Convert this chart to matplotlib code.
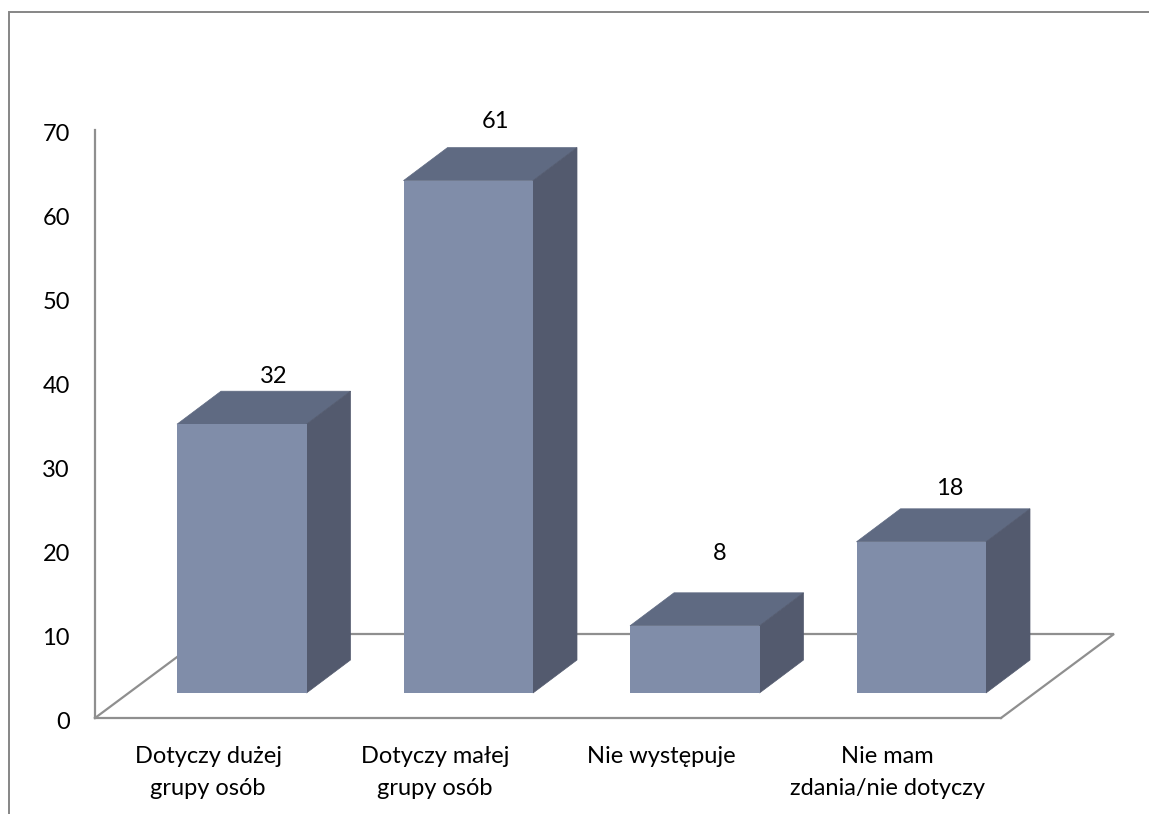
import matplotlib
matplotlib.use('Agg')
import matplotlib.pyplot as plt
from matplotlib.lines import Line2D
from matplotlib.patches import Polygon
from matplotlib.transforms import ScaledTranslation

plt.rcParams['font.family'] = ['Lato', 'DejaVu Sans']

kategorie = ['Dotyczy dużej\ngrupy osób', 'Dotyczy małej\ngrupy osób', 'Nie występuje', 'Nie mam\nzdania/nie dotyczy']
wartosci = [32, 61, 8, 18]
y_ticks = [0, 10, 20, 30, 40, 50, 60, 70]

W, H = 1149, 814
SZARY = '#8f8f8f'
PRZOD = '#808da9'
GORA = '#5f6a82'
BOK = '#535a6e'
FS = 17

# przesuniecie etykiet wartosci w px
etyk_dx = [31.5, 27, 25, 28]
etyk_dy = [15, 26, 39, 20]

fig = plt.figure(figsize=(W / 100, H / 100), dpi=100)
ax = fig.add_axes([95 / W, (H - 718) / H, 906 / W, 588 / H])
ax.set_xlim(-0.5, 3.5)
ax.set_ylim(0, 70)

# px -> jednostki danych
px_x = 4 / 906
px_y = 70 / 588
base = 25 * px_y        # slupki stoja nad podloga
shift = 33.5 * px_x     # przesuniecie przodu slupka
szer = 129.5 * px_x
dx = 44 * px_x          # glebokosc slupka
dy = 33 * px_y

# podloga
fx = 113 * px_x
fy = 84 * px_y
ax.plot([-0.5, -0.5 + fx, 3.5 + fx, 3.5], [0, fy, fy, 0], color=SZARY, lw=1.6,
        clip_on=False, zorder=1, solid_joinstyle='miter')

for i, v in enumerate(wartosci):
    x0 = i + shift - szer / 2
    x1 = x0 + szer
    y1 = base + v
    ax.add_patch(Polygon([(x0, y1), (x1, y1), (x1 + dx, y1 + dy), (x0 + dx, y1 + dy)],
                         closed=True, fc=GORA, ec=GORA, lw=0.5, zorder=2, clip_on=False))
    ax.add_patch(Polygon([(x1, base), (x1 + dx, base + dy), (x1 + dx, y1 + dy), (x1, y1)],
                         closed=True, fc=BOK, ec=BOK, lw=0.5, zorder=2, clip_on=False))
    ax.bar(i + shift, v, width=szer, bottom=base, color=PRZOD, zorder=3)
    ax.text(i + shift + etyk_dx[i] * px_x, y1 + dy + etyk_dy[i] * px_y, str(v), ha='center', va='center',
            fontsize=FS, color='black', zorder=4)

for s in ['top', 'right']:
    ax.spines[s].set_visible(False)
for s in ['left', 'bottom']:
    ax.spines[s].set_color(SZARY)
    ax.spines[s].set_linewidth(1.6)

ax.set_yticks(y_ticks)
ax.set_xticks(range(len(kategorie)), kategorie)
ax.tick_params(axis='y', length=0, pad=18, labelsize=FS)
ax.tick_params(axis='x', length=0, pad=20.5, labelsize=FS)
for t in ax.get_yticklabels():
    t.set_transform(t.get_transform() + ScaledTranslation(0, -2 / 72, fig.dpi_scale_trans))
for t in ax.get_xticklabels():
    t.set_linespacing(1.6)

# ramka wykresu
fig.add_artist(Line2D([9 / W, 9 / W, 1], [0, 1 - 11.5 / H, 1 - 11.5 / H], color='#868686', lw=1.4,
                      solid_joinstyle='miter'))

fig.savefig('out.png', dpi=100)
